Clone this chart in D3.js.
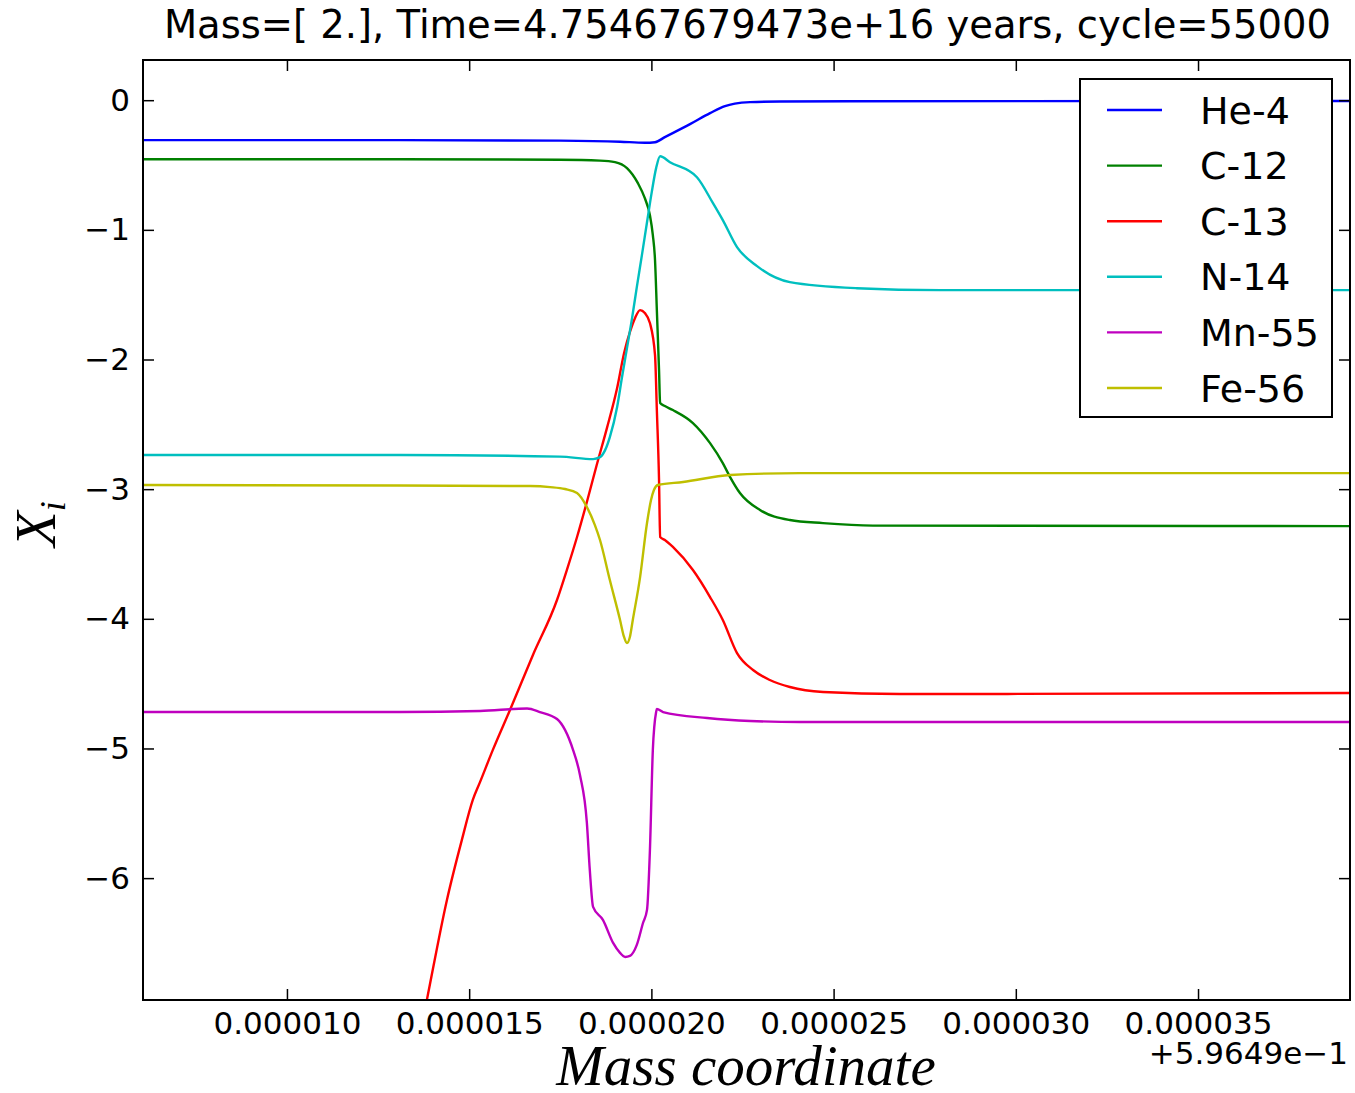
<!DOCTYPE html>
<html>
<head>
<meta charset="utf-8">
<script src="https://cdn.jsdelivr.net/npm/d3@7"></script>
<style>
  html, body { margin: 0; padding: 0; background: #fff; }
  svg { display: block; }
</style>
</head>
<body>
<svg id="chart" width="1355" height="1093"></svg>
<script>
// ---- data (mass coordinate offsets in units of 1e-6, relative to 0.59649) ----
const titleText = "Mass=[ 2.], Time=4.75467679473e+16 years, cycle=55000";
const xTicks = [10, 15, 20, 25, 30, 35];
const yTicks = [0, -1, -2, -3, -4, -5, -6];
const xDomain = [6.05, 39.17];
const yDomain = [-6.94, 0.31];
const offsetLabel = "+5.9649e\u22121";

const species = ["He-4", "C-12", "C-13", "N-14", "Mn-55", "Fe-56"];
const colors = ["#0000ff", "#008000", "#ff0000", "#00bfbf", "#bf00bf", "#bfbf00"];

const he4 = [[6.05,-0.308],[13.10,-0.308],[17.49,-0.312],[19.14,-0.320],[19.82,-0.328],[20.10,-0.324],
  [20.37,-0.285],[21.06,-0.185],[21.61,-0.100],[22.02,-0.046],[22.29,-0.027],[22.71,-0.015],
  [23.53,-0.010],[25.45,-0.008],[39.17,-0.006]];
const c12 = [[6.05,-0.455],[13.10,-0.455],[17.49,-0.459],[18.59,-0.466],[19.00,-0.478],[19.33,-0.524],
  [19.63,-0.640],[19.82,-0.756],[19.96,-0.887],[20.04,-1.041],[20.10,-1.234],[20.15,-1.619],
  [20.21,-2.082],[20.24,-2.336],[20.37,-2.359],[20.59,-2.390],[21.14,-2.490],[21.61,-2.645],
  [21.96,-2.799],[22.16,-2.907],[22.43,-3.030],[22.98,-3.161],[23.80,-3.238],[24.71,-3.262],
  [26.08,-3.281],[39.17,-3.285]];
const c13 = [[13.65,-7.209],[13.84,-6.939],[14.39,-6.168],[14.80,-5.705],[15.10,-5.397],[15.30,-5.258],
  [15.65,-5.011],[16.12,-4.703],[16.75,-4.279],[17.41,-3.855],[17.68,-3.624],[17.96,-3.369],
  [18.23,-3.099],[18.50,-2.814],[18.78,-2.529],[19.06,-2.220],[19.25,-1.951],[19.41,-1.789],
  [19.55,-1.681],[19.69,-1.619],[19.82,-1.642],[19.96,-1.719],[20.10,-1.966],[20.15,-2.390],
  [20.21,-2.930],[20.24,-3.369],[20.37,-3.392],[20.59,-3.446],[21.14,-3.624],[21.61,-3.832],
  [21.96,-4.009],[22.35,-4.264],[22.79,-4.395],[23.25,-4.472],[23.80,-4.526],[24.71,-4.564],
  [26.82,-4.580],[39.17,-4.572]];
const n14 = [[6.05,-2.737],[13.10,-2.737],[17.49,-2.749],[18.40,-2.768],[18.59,-2.753],[18.73,-2.699],
  [18.86,-2.598],[19.06,-2.367],[19.19,-2.143],[19.33,-1.912],[19.47,-1.681],[19.60,-1.442],
  [19.74,-1.195],[19.88,-0.941],[20.01,-0.709],[20.13,-0.524],[20.24,-0.432],[20.51,-0.478],
  [21.25,-0.594],[21.69,-0.794],[21.96,-0.925],[22.35,-1.133],[22.90,-1.280],[23.80,-1.403],
  [25.64,-1.450],[27.92,-1.465],[39.17,-1.465]];
const mn55 = [[6.05,-4.719],[13.10,-4.719],[15.30,-4.711],[16.59,-4.692],[16.94,-4.719],[17.41,-4.773],
  [17.63,-4.857],[17.85,-5.011],[18.04,-5.204],[18.23,-5.574],[18.31,-5.937],[18.40,-6.222],
  [18.67,-6.322],[18.95,-6.500],[19.14,-6.577],[19.28,-6.608],[19.41,-6.600],[19.60,-6.515],
  [19.77,-6.346],[19.88,-6.245],[19.96,-5.783],[20.04,-5.011],[20.13,-4.719],[20.15,-4.696],
  [20.32,-4.719],[21.53,-4.765],[22.71,-4.788],[24.08,-4.796],[39.17,-4.796]];
const fe56 = [[6.05,-2.968],[13.10,-2.972],[16.67,-2.976],[17.22,-2.984],[17.63,-2.999],[17.96,-3.030],
  [18.23,-3.138],[18.45,-3.277],[18.59,-3.392],[18.86,-3.701],[19.14,-4.009],[19.25,-4.140],
  [19.33,-4.187],[19.41,-4.140],[19.49,-4.009],[19.69,-3.678],[19.88,-3.261],[19.99,-3.084],
  [20.07,-3.006],[20.18,-2.968],[20.87,-2.945],[22.16,-2.891],[24.08,-2.876],[39.17,-2.876]];
const seriesData = [he4, c12, c13, n14, mn55, fe56];

// ---- layout ----
const svg = d3.select("#chart");
const L = 143, T = 60, R = 1350, B = 1000;
const x = d3.scaleLinear().domain(xDomain).range([L, R]);
const y = d3.scaleLinear().domain(yDomain).range([B, T]);
const tickLen = 11;
const sans = "DejaVu Sans, sans-serif";
const serif = "Liberation Serif, DejaVu Serif, serif";

svg.append("defs").append("clipPath").attr("id", "clip")
  .append("rect").attr("x", L).attr("y", T).attr("width", R - L).attr("height", B - T);

const line = d3.line().x(d => x(d[0])).y(d => y(d[1])).curve(d3.curveMonotoneX);

const plot = svg.append("g").attr("clip-path", "url(#clip)");
seriesData.forEach((s, i) => {
  plot.append("path").datum(s)
    .attr("d", line)
    .attr("fill", "none")
    .attr("stroke", colors[i])
    .attr("stroke-width", 2.4)
    .attr("stroke-linejoin", "round");
});

// axes (inward ticks on all sides)
const fmtX = v => (v * 1e-6).toFixed(6);
const axB = svg.append("g").attr("transform", `translate(0,${B})`)
  .call(d3.axisBottom(x).tickValues(xTicks).tickFormat(fmtX).tickSizeInner(-tickLen).tickSizeOuter(0).tickPadding(12));
const axT = svg.append("g").attr("transform", `translate(0,${T})`)
  .call(d3.axisTop(x).tickValues(xTicks).tickFormat("").tickSizeInner(-tickLen).tickSizeOuter(0));
const axL = svg.append("g").attr("transform", `translate(${L},0)`)
  .call(d3.axisLeft(y).tickValues(yTicks).tickFormat(d3.format("d")).tickSizeInner(-tickLen).tickSizeOuter(0).tickPadding(13));
const axR = svg.append("g").attr("transform", `translate(${R},0)`)
  .call(d3.axisRight(y).tickValues(yTicks).tickFormat("").tickSizeInner(-tickLen).tickSizeOuter(0));
[axB, axT, axL, axR].forEach(a => {
  a.select(".domain").remove();
  a.selectAll(".tick line").attr("stroke", "#000").attr("stroke-width", 1.5);
  a.selectAll("text").style("font-family", sans).style("font-size", "31px").attr("fill", "#000");
});

// frame
svg.append("rect").attr("x", L).attr("y", T).attr("width", R - L).attr("height", B - T)
  .attr("fill", "none").attr("stroke", "#000").attr("stroke-width", 2);

// offset text
svg.append("text").attr("x", R - 2).attr("y", 1064).attr("text-anchor", "end")
  .style("font-family", sans).style("font-size", "31px").text(offsetLabel);

// title
svg.append("text").attr("x", (L + R) / 2 + 1).attr("y", 38).attr("text-anchor", "middle")
  .style("font-family", sans).style("font-size", "38.5px").text(titleText);

// axis labels
svg.append("text").attr("x", 746).attr("y", 1085).attr("text-anchor", "middle")
  .style("font-family", serif).style("font-style", "italic").style("font-size", "57px")
  .text("Mass coordinate");
const yl = svg.append("text").attr("transform", "translate(55,524) rotate(-90)")
  .attr("text-anchor", "middle")
  .style("font-family", serif).style("font-style", "italic").style("font-size", "58px");
yl.append("tspan").text("X");
yl.append("tspan").style("font-size", "36px").attr("dy", 10).text("i");

// legend
const lg = svg.append("g");
lg.append("rect").attr("x", 1080).attr("y", 79).attr("width", 252).attr("height", 338)
  .attr("fill", "#fff").attr("stroke", "#000").attr("stroke-width", 2);
species.forEach((name, i) => {
  const yy = 110 + i * 55.6;
  lg.append("line").attr("x1", 1107).attr("x2", 1162).attr("y1", yy).attr("y2", yy)
    .attr("stroke", colors[i]).attr("stroke-width", 2.4);
  lg.append("text").attr("x", 1200).attr("y", yy).attr("dy", "0.36em")
    .style("font-family", sans).style("font-size", "38px").text(name);
});
</script>
</body>
</html>
